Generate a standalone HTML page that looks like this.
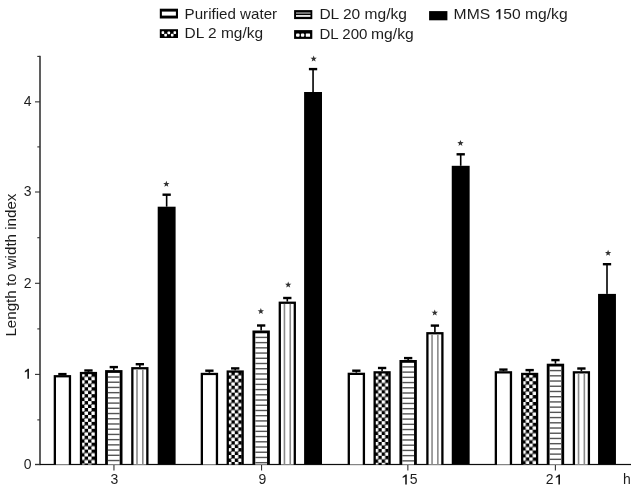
<!DOCTYPE html>
<html><head><meta charset="utf-8"><style>
html,body{margin:0;padding:0;background:#fff;}
body{width:634px;height:486px;overflow:hidden;}
svg{display:block;}
text{font-family:"Liberation Sans",sans-serif;font-size:14.2px;fill:#1e1e1e;}
text.ax{font-size:14px;}
text.st{font-size:14px;fill:#111;}
</style></head><body>
<svg width="634" height="486" viewBox="0 0 634 486">
<defs>
<pattern id="chk0" patternUnits="userSpaceOnUse" width="6.93" height="6.93" x="81.12" y="373.37"><rect width="6.93" height="6.93" fill="#000"/><rect x="-0.07" y="-0.07" width="3.6" height="3.6" rx="0.7" fill="#fff"/><rect x="3.40" y="3.40" width="3.6" height="3.6" rx="0.7" fill="#fff"/></pattern>
<pattern id="chk1" patternUnits="userSpaceOnUse" width="6.93" height="6.93" x="227.87" y="371.87"><rect width="6.93" height="6.93" fill="#000"/><rect x="-0.07" y="-0.07" width="3.6" height="3.6" rx="0.7" fill="#fff"/><rect x="3.40" y="3.40" width="3.6" height="3.6" rx="0.7" fill="#fff"/></pattern>
<pattern id="chk2" patternUnits="userSpaceOnUse" width="6.93" height="6.93" x="374.77" y="372.67"><rect width="6.93" height="6.93" fill="#000"/><rect x="-0.07" y="-0.07" width="3.6" height="3.6" rx="0.7" fill="#fff"/><rect x="3.40" y="3.40" width="3.6" height="3.6" rx="0.7" fill="#fff"/></pattern>
<pattern id="chk3" patternUnits="userSpaceOnUse" width="6.93" height="6.93" x="522.32" y="374.27"><rect width="6.93" height="6.93" fill="#000"/><rect x="-0.07" y="-0.07" width="3.6" height="3.6" rx="0.7" fill="#fff"/><rect x="3.40" y="3.40" width="3.6" height="3.6" rx="0.7" fill="#fff"/></pattern>
<filter id="bl" x="-2%" y="-2%" width="104%" height="104%"><feGaussianBlur stdDeviation="0.4"/></filter>
</defs>
<g filter="url(#bl)">
<!-- legend -->
<rect x="159.8" y="8.7" width="18.2" height="9.8"/>
<rect x="161.9" y="11.6" width="14" height="4" fill="#fff"/>
<rect x="159.8" y="29.2" width="18.2" height="8.8"/>
<g fill="#fff"><rect x="161.6" y="31.3" width="2.6" height="2.6" rx="0.6"/><rect x="164.3" y="33.8" width="2.6" height="2.6" rx="0.6"/><rect x="167.5" y="31.6" width="2.6" height="2.6" rx="0.6"/><rect x="170.9" y="33.8" width="2.6" height="2.6" rx="0.6"/><rect x="173.5" y="31.3" width="2.6" height="2.6" rx="0.6"/></g>
<rect x="294.1" y="10.1" width="18.2" height="9"/>
<rect x="296" y="12.1" width="14.5" height="1.9" fill="#777"/>
<rect x="296" y="15.1" width="14.5" height="1.7" fill="#fff"/>
<rect x="294.1" y="30.1" width="18.2" height="8.8"/>
<g fill="#fff"><rect x="296" y="33.5" width="3.6" height="3.3" rx="1"/><rect x="300.9" y="33.5" width="3.4" height="3.3" rx="1"/><rect x="305.8" y="33.5" width="4.3" height="3.3" rx="0.6"/></g>
<rect x="429.1" y="11.1" width="18.3" height="9.2"/>
<text x="184.6" y="19.2" textLength="92.5" lengthAdjust="spacingAndGlyphs">Purified water</text>
<text x="184.6" y="37.8" textLength="78.5" lengthAdjust="spacingAndGlyphs">DL 2 mg/kg</text>
<text x="319.4" y="19.1" textLength="87.5" lengthAdjust="spacingAndGlyphs">DL 20 mg/kg</text>
<text x="319.4" y="38.7" textLength="48" lengthAdjust="spacingAndGlyphs">DL 200</text>
<text x="371.1" y="38.7" textLength="42.6" lengthAdjust="spacingAndGlyphs">mg/kg</text>
<text x="453.6" y="19.2" textLength="36.53" lengthAdjust="spacingAndGlyphs">MMS</text>
<path d="M500.44,19.20 L498.72,19.20 L498.72,11.46 L496.06,12.81 L496.06,11.39 L499.19,9.03 L500.44,9.03Z" fill="#1e1e1e"/>
<text x="503.19" y="19.2" textLength="64.40" lengthAdjust="spacingAndGlyphs">50 mg/kg</text>
<!-- y title -->
<text transform="translate(15.6,336.6) rotate(-90)" x="0" y="0" textLength="143" lengthAdjust="spacingAndGlyphs" style="font-size:13.8px">Length to width index</text>
<!-- axes -->
<rect x="39.2" y="55.8" width="1.6" height="409.3" fill="#3a3a3a"/>
<rect x="35" y="463.90" width="596" height="1.2" fill="#111"/>
<rect x="35" y="463.95" width="5" height="1.1" fill="#333"/>
<text x="31.6" y="468.90" text-anchor="end" class="ax">0</text>
<rect x="35" y="373.85" width="5" height="1.1" fill="#333"/>
<path d="M29.00,378.80 L27.37,378.80 L27.37,371.17 L24.85,372.50 L24.85,371.10 L27.82,368.78 L29.00,368.78Z" fill="#1e1e1e"/>
<rect x="35" y="282.75" width="5" height="1.1" fill="#333"/>
<text x="31.6" y="287.70" text-anchor="end" class="ax">2</text>
<rect x="35" y="191.45" width="5" height="1.1" fill="#333"/>
<text x="31.6" y="196.40" text-anchor="end" class="ax">3</text>
<rect x="35" y="101.30" width="5" height="1.1" fill="#333"/>
<text x="31.6" y="106.25" text-anchor="end" class="ax">4</text>
<rect x="37.3" y="419.35" width="2.7" height="1.1" fill="#333"/>
<rect x="37.3" y="328.35" width="2.7" height="1.1" fill="#333"/>
<rect x="37.3" y="237.15" width="2.7" height="1.1" fill="#333"/>
<rect x="37.3" y="146.35" width="2.7" height="1.1" fill="#333"/>
<rect x="37.3" y="55.85" width="2.7" height="1.1" fill="#333"/>
<rect x="113.40" y="464.50" width="1.1" height="6" fill="#333"/>
<rect x="261.00" y="464.50" width="1.1" height="6" fill="#333"/>
<rect x="407.30" y="464.50" width="1.1" height="6" fill="#333"/>
<rect x="554.85" y="464.50" width="1.1" height="6" fill="#333"/>
<text x="114.3" y="484.4" text-anchor="middle" class="ax">3</text>
<text x="262.5" y="484.4" text-anchor="middle" class="ax">9</text>
<path d="M406.82,484.40 L405.19,484.40 L405.19,476.77 L402.67,478.10 L402.67,476.70 L405.63,474.38 L406.82,474.38Z" fill="#1e1e1e"/>
<text x="409.8" y="484.4" class="ax">5</text>
<text x="545.8" y="484.4" class="ax">2</text>
<path d="M560.00,484.40 L558.37,484.40 L558.37,476.77 L555.85,478.10 L555.85,476.70 L558.82,474.38 L560.00,474.38Z" fill="#1e1e1e"/>
<text x="627" y="484.4" text-anchor="middle" class="ax">h</text>
<g fill="#000">
<rect x="61.60" y="373.90" width="1.6" height="1.20"/>
<rect x="58.25" y="372.90" width="8.3" height="2.4"/>
<rect x="53.70" y="375.10" width="17.40" height="89.40"/>
<rect x="56.00" y="377.40" width="12.80" height="87.10" fill="#fff"/>
<rect x="87.65" y="370.30" width="1.6" height="1.60"/>
<rect x="84.30" y="369.30" width="8.3" height="2.4"/>
<rect x="79.85" y="371.90" width="17.20" height="92.60"/>
<rect x="82.15" y="374.20" width="12.60" height="90.30" fill="url(#chk0)"/>
<rect x="113.00" y="366.90" width="1.6" height="3.20"/>
<rect x="109.65" y="365.90" width="8.3" height="2.4"/>
<rect x="105.10" y="370.10" width="17.40" height="94.40"/>
<rect x="107.90" y="372.90" width="11.80" height="91.60" fill="#fff"/>
<rect x="107.90" y="376.30" width="11.80" height="1.4" fill="#555"/>
<rect x="107.90" y="381.52" width="11.80" height="1.4" fill="#555"/>
<rect x="107.90" y="386.74" width="11.80" height="1.4" fill="#555"/>
<rect x="107.90" y="391.96" width="11.80" height="1.4" fill="#555"/>
<rect x="107.90" y="397.18" width="11.80" height="1.4" fill="#555"/>
<rect x="107.90" y="402.40" width="11.80" height="1.4" fill="#555"/>
<rect x="107.90" y="407.62" width="11.80" height="1.4" fill="#555"/>
<rect x="107.90" y="412.84" width="11.80" height="1.4" fill="#555"/>
<rect x="107.90" y="418.06" width="11.80" height="1.4" fill="#555"/>
<rect x="107.90" y="423.28" width="11.80" height="1.4" fill="#555"/>
<rect x="107.90" y="428.50" width="11.80" height="1.4" fill="#555"/>
<rect x="107.90" y="433.72" width="11.80" height="1.4" fill="#555"/>
<rect x="107.90" y="438.94" width="11.80" height="1.4" fill="#555"/>
<rect x="107.90" y="444.16" width="11.80" height="1.4" fill="#555"/>
<rect x="107.90" y="449.38" width="11.80" height="1.4" fill="#555"/>
<rect x="107.90" y="454.60" width="11.80" height="1.4" fill="#555"/>
<rect x="107.90" y="459.82" width="11.80" height="1.4" fill="#555"/>
<rect x="139.05" y="364.00" width="1.6" height="3.10"/>
<rect x="135.70" y="363.00" width="8.3" height="2.4"/>
<rect x="131.20" y="367.10" width="17.30" height="97.40"/>
<rect x="133.50" y="369.40" width="12.70" height="95.10" fill="#fff"/>
<rect x="136.20" y="369.40" width="1.6" height="95.10" fill="#8a8a8a"/>
<rect x="142.00" y="369.40" width="1.6" height="95.10" fill="#8a8a8a"/>
<rect x="165.85" y="194.50" width="1.6" height="12.20"/>
<rect x="162.50" y="193.50" width="8.3" height="2.4"/>
<rect x="157.70" y="206.70" width="17.90" height="257.80"/>
<rect x="208.60" y="370.50" width="1.6" height="2.30"/>
<rect x="205.25" y="369.50" width="8.3" height="2.4"/>
<rect x="200.70" y="372.80" width="17.40" height="91.70"/>
<rect x="203.00" y="375.10" width="12.80" height="89.40" fill="#fff"/>
<rect x="234.40" y="368.20" width="1.6" height="2.20"/>
<rect x="231.05" y="367.20" width="8.3" height="2.4"/>
<rect x="226.60" y="370.40" width="17.20" height="94.10"/>
<rect x="228.90" y="372.70" width="12.60" height="91.80" fill="url(#chk1)"/>
<rect x="260.35" y="325.30" width="1.6" height="5.20"/>
<rect x="257.00" y="324.30" width="8.3" height="2.4"/>
<rect x="252.45" y="330.50" width="17.40" height="134.00"/>
<rect x="255.25" y="333.30" width="11.80" height="131.20" fill="#fff"/>
<rect x="255.25" y="336.70" width="11.80" height="1.4" fill="#555"/>
<rect x="255.25" y="341.92" width="11.80" height="1.4" fill="#555"/>
<rect x="255.25" y="347.14" width="11.80" height="1.4" fill="#555"/>
<rect x="255.25" y="352.36" width="11.80" height="1.4" fill="#555"/>
<rect x="255.25" y="357.58" width="11.80" height="1.4" fill="#555"/>
<rect x="255.25" y="362.80" width="11.80" height="1.4" fill="#555"/>
<rect x="255.25" y="368.02" width="11.80" height="1.4" fill="#555"/>
<rect x="255.25" y="373.24" width="11.80" height="1.4" fill="#555"/>
<rect x="255.25" y="378.46" width="11.80" height="1.4" fill="#555"/>
<rect x="255.25" y="383.68" width="11.80" height="1.4" fill="#555"/>
<rect x="255.25" y="388.90" width="11.80" height="1.4" fill="#555"/>
<rect x="255.25" y="394.12" width="11.80" height="1.4" fill="#555"/>
<rect x="255.25" y="399.34" width="11.80" height="1.4" fill="#555"/>
<rect x="255.25" y="404.56" width="11.80" height="1.4" fill="#555"/>
<rect x="255.25" y="409.78" width="11.80" height="1.4" fill="#555"/>
<rect x="255.25" y="415.00" width="11.80" height="1.4" fill="#555"/>
<rect x="255.25" y="420.22" width="11.80" height="1.4" fill="#555"/>
<rect x="255.25" y="425.44" width="11.80" height="1.4" fill="#555"/>
<rect x="255.25" y="430.66" width="11.80" height="1.4" fill="#555"/>
<rect x="255.25" y="435.88" width="11.80" height="1.4" fill="#555"/>
<rect x="255.25" y="441.10" width="11.80" height="1.4" fill="#555"/>
<rect x="255.25" y="446.32" width="11.80" height="1.4" fill="#555"/>
<rect x="255.25" y="451.54" width="11.80" height="1.4" fill="#555"/>
<rect x="255.25" y="456.76" width="11.80" height="1.4" fill="#555"/>
<rect x="255.25" y="461.98" width="11.80" height="1.4" fill="#555"/>
<rect x="286.50" y="297.80" width="1.6" height="3.80"/>
<rect x="283.15" y="296.80" width="8.3" height="2.4"/>
<rect x="278.65" y="301.60" width="17.30" height="162.90"/>
<rect x="280.95" y="303.90" width="12.70" height="160.60" fill="#fff"/>
<rect x="283.65" y="303.90" width="1.6" height="160.60" fill="#8a8a8a"/>
<rect x="289.45" y="303.90" width="1.6" height="160.60" fill="#8a8a8a"/>
<rect x="312.25" y="68.90" width="1.6" height="23.10"/>
<rect x="308.90" y="67.90" width="8.3" height="2.4"/>
<rect x="304.10" y="92.00" width="17.90" height="372.50"/>
<rect x="355.55" y="370.50" width="1.6" height="2.20"/>
<rect x="352.20" y="369.50" width="8.3" height="2.4"/>
<rect x="347.65" y="372.70" width="17.40" height="91.80"/>
<rect x="349.95" y="375.00" width="12.80" height="89.50" fill="#fff"/>
<rect x="381.30" y="367.80" width="1.6" height="3.40"/>
<rect x="377.95" y="366.80" width="8.3" height="2.4"/>
<rect x="373.50" y="371.20" width="17.20" height="93.30"/>
<rect x="375.80" y="373.50" width="12.60" height="91.00" fill="url(#chk2)"/>
<rect x="407.35" y="357.90" width="1.6" height="2.10"/>
<rect x="404.00" y="356.90" width="8.3" height="2.4"/>
<rect x="399.45" y="360.00" width="17.40" height="104.50"/>
<rect x="402.25" y="362.80" width="11.80" height="101.70" fill="#fff"/>
<rect x="402.25" y="366.20" width="11.80" height="1.4" fill="#555"/>
<rect x="402.25" y="371.42" width="11.80" height="1.4" fill="#555"/>
<rect x="402.25" y="376.64" width="11.80" height="1.4" fill="#555"/>
<rect x="402.25" y="381.86" width="11.80" height="1.4" fill="#555"/>
<rect x="402.25" y="387.08" width="11.80" height="1.4" fill="#555"/>
<rect x="402.25" y="392.30" width="11.80" height="1.4" fill="#555"/>
<rect x="402.25" y="397.52" width="11.80" height="1.4" fill="#555"/>
<rect x="402.25" y="402.74" width="11.80" height="1.4" fill="#555"/>
<rect x="402.25" y="407.96" width="11.80" height="1.4" fill="#555"/>
<rect x="402.25" y="413.18" width="11.80" height="1.4" fill="#555"/>
<rect x="402.25" y="418.40" width="11.80" height="1.4" fill="#555"/>
<rect x="402.25" y="423.62" width="11.80" height="1.4" fill="#555"/>
<rect x="402.25" y="428.84" width="11.80" height="1.4" fill="#555"/>
<rect x="402.25" y="434.06" width="11.80" height="1.4" fill="#555"/>
<rect x="402.25" y="439.28" width="11.80" height="1.4" fill="#555"/>
<rect x="402.25" y="444.50" width="11.80" height="1.4" fill="#555"/>
<rect x="402.25" y="449.72" width="11.80" height="1.4" fill="#555"/>
<rect x="402.25" y="454.94" width="11.80" height="1.4" fill="#555"/>
<rect x="402.25" y="460.16" width="11.80" height="1.4" fill="#555"/>
<rect x="434.10" y="325.40" width="1.6" height="6.70"/>
<rect x="430.75" y="324.40" width="8.3" height="2.4"/>
<rect x="426.25" y="332.10" width="17.30" height="132.40"/>
<rect x="428.55" y="334.40" width="12.70" height="130.10" fill="#fff"/>
<rect x="431.25" y="334.40" width="1.6" height="130.10" fill="#8a8a8a"/>
<rect x="437.05" y="334.40" width="1.6" height="130.10" fill="#8a8a8a"/>
<rect x="459.90" y="154.10" width="1.6" height="11.70"/>
<rect x="456.55" y="153.10" width="8.3" height="2.4"/>
<rect x="451.75" y="165.80" width="17.90" height="298.70"/>
<rect x="502.60" y="369.40" width="1.6" height="1.80"/>
<rect x="499.25" y="368.40" width="8.3" height="2.4"/>
<rect x="494.70" y="371.20" width="17.40" height="93.30"/>
<rect x="497.00" y="373.50" width="12.80" height="91.00" fill="#fff"/>
<rect x="528.85" y="369.90" width="1.6" height="2.90"/>
<rect x="525.50" y="368.90" width="8.3" height="2.4"/>
<rect x="521.05" y="372.80" width="17.20" height="91.70"/>
<rect x="523.35" y="375.10" width="12.60" height="89.40" fill="url(#chk3)"/>
<rect x="554.65" y="359.90" width="1.6" height="3.80"/>
<rect x="551.30" y="358.90" width="8.3" height="2.4"/>
<rect x="546.75" y="363.70" width="17.40" height="100.80"/>
<rect x="549.55" y="366.50" width="11.80" height="98.00" fill="#fff"/>
<rect x="549.55" y="369.90" width="11.80" height="1.4" fill="#555"/>
<rect x="549.55" y="375.12" width="11.80" height="1.4" fill="#555"/>
<rect x="549.55" y="380.34" width="11.80" height="1.4" fill="#555"/>
<rect x="549.55" y="385.56" width="11.80" height="1.4" fill="#555"/>
<rect x="549.55" y="390.78" width="11.80" height="1.4" fill="#555"/>
<rect x="549.55" y="396.00" width="11.80" height="1.4" fill="#555"/>
<rect x="549.55" y="401.22" width="11.80" height="1.4" fill="#555"/>
<rect x="549.55" y="406.44" width="11.80" height="1.4" fill="#555"/>
<rect x="549.55" y="411.66" width="11.80" height="1.4" fill="#555"/>
<rect x="549.55" y="416.88" width="11.80" height="1.4" fill="#555"/>
<rect x="549.55" y="422.10" width="11.80" height="1.4" fill="#555"/>
<rect x="549.55" y="427.32" width="11.80" height="1.4" fill="#555"/>
<rect x="549.55" y="432.54" width="11.80" height="1.4" fill="#555"/>
<rect x="549.55" y="437.76" width="11.80" height="1.4" fill="#555"/>
<rect x="549.55" y="442.98" width="11.80" height="1.4" fill="#555"/>
<rect x="549.55" y="448.20" width="11.80" height="1.4" fill="#555"/>
<rect x="549.55" y="453.42" width="11.80" height="1.4" fill="#555"/>
<rect x="549.55" y="458.64" width="11.80" height="1.4" fill="#555"/>
<rect x="580.60" y="368.30" width="1.6" height="2.90"/>
<rect x="577.25" y="367.30" width="8.3" height="2.4"/>
<rect x="572.75" y="371.20" width="17.30" height="93.30"/>
<rect x="575.05" y="373.50" width="12.70" height="91.00" fill="#fff"/>
<rect x="577.75" y="373.50" width="1.6" height="91.00" fill="#8a8a8a"/>
<rect x="583.55" y="373.50" width="1.6" height="91.00" fill="#8a8a8a"/>
<rect x="606.20" y="264.00" width="1.6" height="29.90"/>
<rect x="602.85" y="263.00" width="8.3" height="2.4"/>
<rect x="598.05" y="293.90" width="17.90" height="170.60"/>
</g>
<polygon points="166.35,180.77 167.17,182.93 169.49,183.05 167.68,184.50 168.29,186.73 166.35,185.47 164.41,186.73 165.02,184.50 163.21,183.05 165.53,182.93" fill="#333"/>
<polygon points="260.85,308.07 261.67,310.23 263.99,310.35 262.18,311.80 262.79,314.03 260.85,312.77 258.91,314.03 259.52,311.80 257.71,310.35 260.03,310.23" fill="#333"/>
<polygon points="288.20,281.47 289.02,283.63 291.34,283.75 289.53,285.20 290.14,287.43 288.20,286.17 286.26,287.43 286.87,285.20 285.06,283.75 287.38,283.63" fill="#333"/>
<polygon points="313.65,55.57 314.47,57.73 316.79,57.85 314.98,59.30 315.59,61.53 313.65,60.27 311.71,61.53 312.32,59.30 310.51,57.85 312.83,57.73" fill="#333"/>
<polygon points="434.75,309.47 435.57,311.63 437.89,311.75 436.08,313.20 436.69,315.43 434.75,314.17 432.81,315.43 433.42,313.20 431.61,311.75 433.93,311.63" fill="#333"/>
<polygon points="460.45,139.92 461.27,142.08 463.59,142.20 461.78,143.65 462.39,145.88 460.45,144.62 458.51,145.88 459.12,143.65 457.31,142.20 459.63,142.08" fill="#333"/>
<polygon points="608.10,249.82 608.92,251.98 611.24,252.10 609.43,253.55 610.04,255.78 608.10,254.52 606.16,255.78 606.77,253.55 604.96,252.10 607.28,251.98" fill="#333"/>
</g>
</svg>
</body></html>
